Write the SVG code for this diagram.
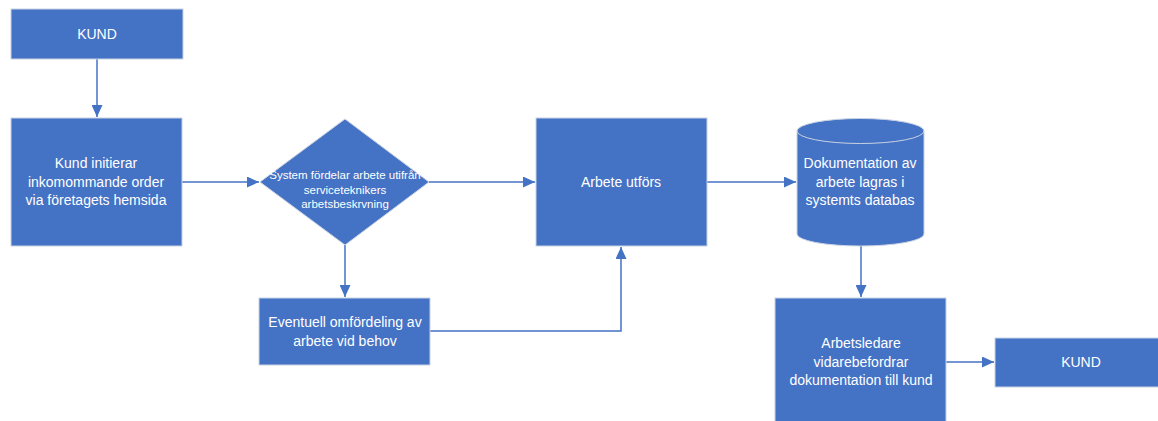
<svg xmlns="http://www.w3.org/2000/svg" width="1158" height="421" viewBox="0 0 1158 421">
<style>
.n{fill:#4472C4;stroke:#c9d2e3;stroke-width:1}
.t{fill:#ffffff;font-family:"Liberation Sans",Arial,sans-serif;font-size:14px;text-anchor:middle}
.s{font-size:11.5px}
.c{fill:none;stroke:#4472C4;stroke-width:1.5}
</style>
<defs>
<marker id="ah" viewBox="0 0 12 11" refX="12" refY="5.5" markerWidth="12" markerHeight="11" markerUnits="userSpaceOnUse" orient="auto">
<path d="M0,0 L12,5.5 L0,11 z" fill="#4472C4"/>
</marker>
</defs>
<rect width="1158" height="421" fill="#ffffff"/>
<g id="connectors">
<path class="c" d="M97,59 V117" marker-end="url(#ah)"/>
<path class="c" d="M182,182 H259" marker-end="url(#ah)"/>
<path class="c" d="M429,182 H535" marker-end="url(#ah)"/>
<path class="c" d="M345,245 V297" marker-end="url(#ah)"/>
<path class="c" d="M430,331 H621 V247" marker-end="url(#ah)"/>
<path class="c" d="M707,182 H796" marker-end="url(#ah)"/>
<path class="c" d="M861,246 V297" marker-end="url(#ah)"/>
<path class="c" d="M946,362 H994" marker-end="url(#ah)"/>
</g>
<g id="kund-top">
<rect class="n" x="11" y="9" width="172" height="50"/>
<text class="t" x="97" y="39">KUND</text>
</g>
<g id="kund-initierar">
<rect class="n" x="11" y="118" width="171" height="128"/>
<text class="t" x="96" y="168">Kund initierar</text>
<text class="t" x="96" y="187">inkomommande order</text>
<text class="t" x="96" y="205">via företagets hemsida</text>
</g>
<g id="system">
<polygon class="n" points="345,119 429,182 345,245 260,182"/>
<text class="t s" x="345" y="179">System fördelar arbete utifrån</text>
<text class="t s" x="345" y="194">serviceteknikers</text>
<text class="t s" x="345" y="208">arbetsbeskrvning</text>
</g>
<g id="eventuell">
<rect class="n" x="259" y="298" width="171" height="67"/>
<text class="t" x="345" y="327">Eventuell omfördeling av</text>
<text class="t" x="345" y="346">arbete vid behov</text>
</g>
<g id="arbete">
<rect class="n" x="536" y="118" width="171" height="128"/>
<text class="t" x="621" y="187">Arbete utförs</text>
</g>
<g id="databas">
<path class="n" d="M797,131 A63.5,12.5 0 0 1 924,131 V234 A63.5,12 0 0 1 797,234 Z"/>
<path d="M797,131 A63.5,12.5 0 0 0 924,131" fill="none" stroke="#c9d2e3" stroke-width="1"/>
<text class="t" x="860" y="168">Dokumentation av</text>
<text class="t" x="860" y="187">arbete lagras i</text>
<text class="t" x="860" y="205">systemts databas</text>
</g>
<g id="arbetsledare">
<rect class="n" x="775" y="298" width="171" height="128"/>
<text class="t" x="861" y="348">Arbetsledare</text>
<text class="t" x="861" y="367">vidarebefordrar</text>
<text class="t" x="861" y="385">dokumentation till kund</text>
</g>
<g id="kund-bottom">
<rect class="n" x="995" y="338" width="168" height="49"/>
<text class="t" x="1081" y="367">KUND</text>
</g>
</svg>
